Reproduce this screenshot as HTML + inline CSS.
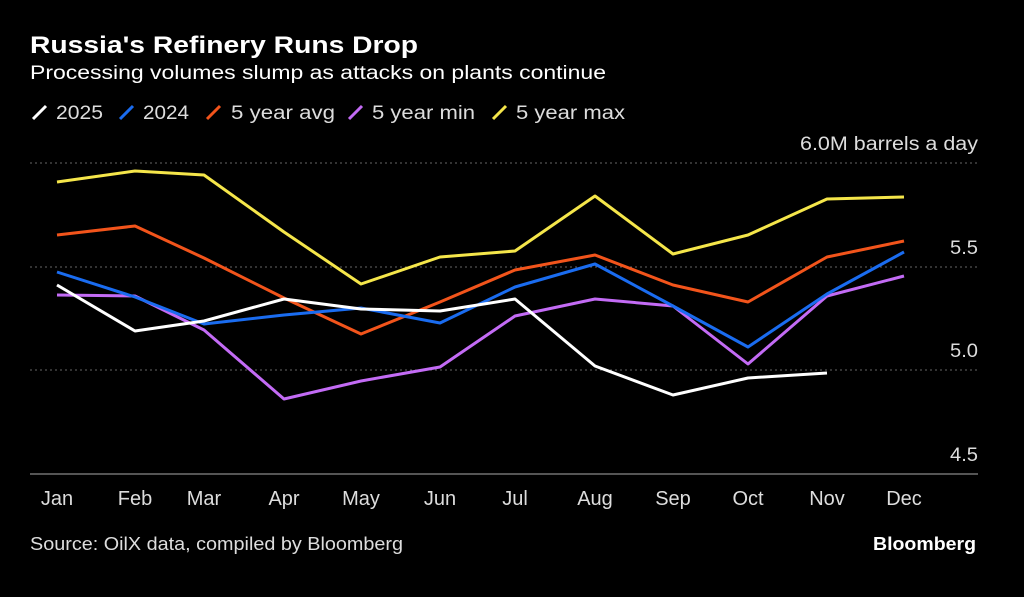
<!DOCTYPE html>
<html><head><meta charset="utf-8"><style>
html,body{margin:0;padding:0;background:#000;}
body{width:1024px;height:592px;overflow:hidden;font-family:"Liberation Sans",sans-serif;}
</style></head><body>
<svg width="1024" height="592" xmlns="http://www.w3.org/2000/svg" font-family="Liberation Sans, sans-serif">
<rect width="1024" height="592" fill="#000"/>
<text x="30" y="53" fill="#fff" font-size="24" font-weight="bold" textLength="388" lengthAdjust="spacingAndGlyphs">Russia's Refinery Runs Drop</text>
<text x="30" y="79" fill="#fff" font-size="19" textLength="576" lengthAdjust="spacingAndGlyphs">Processing volumes slump as attacks on plants continue</text>
<g font-size="19" fill="#ddd">
<line x1="33" y1="119" x2="46" y2="106" stroke="#fff" stroke-width="3"/><text x="56" y="119" textLength="47" lengthAdjust="spacingAndGlyphs">2025</text>
<line x1="120" y1="119" x2="133" y2="106" stroke="#1a6cf0" stroke-width="3"/><text x="143" y="119" textLength="46" lengthAdjust="spacingAndGlyphs">2024</text>
<line x1="207" y1="119" x2="220" y2="106" stroke="#f2541b" stroke-width="3"/><text x="231" y="119" textLength="104" lengthAdjust="spacingAndGlyphs">5 year avg</text>
<line x1="349" y1="119" x2="362" y2="106" stroke="#c36bf5" stroke-width="3"/><text x="372" y="119" textLength="103" lengthAdjust="spacingAndGlyphs">5 year min</text>
<line x1="493" y1="119" x2="506" y2="106" stroke="#f5e64a" stroke-width="3"/><text x="516" y="119" textLength="109" lengthAdjust="spacingAndGlyphs">5 year max</text>
</g>
<g stroke="#666" stroke-width="1" stroke-dasharray="2,3">
<line x1="30" y1="163" x2="978" y2="163"/>
<line x1="30" y1="267" x2="978" y2="267"/>
<line x1="30" y1="370" x2="978" y2="370"/>
</g>
<line x1="30" y1="474" x2="978" y2="474" stroke="#aaa" stroke-width="1"/>
<g font-size="19" fill="#ddd" text-anchor="end">
<text x="978" y="150" textLength="178" lengthAdjust="spacingAndGlyphs">6.0M barrels a day</text>
<text x="978" y="254" textLength="28" lengthAdjust="spacingAndGlyphs">5.5</text>
<text x="978" y="357" textLength="28" lengthAdjust="spacingAndGlyphs">5.0</text>
<text x="978" y="461" textLength="28" lengthAdjust="spacingAndGlyphs">4.5</text>
</g>
<g font-size="20" fill="#ddd" text-anchor="middle">
<text x="57" y="505">Jan</text><text x="135" y="505">Feb</text><text x="204" y="505">Mar</text><text x="284" y="505">Apr</text><text x="361" y="505">May</text><text x="440" y="505">Jun</text><text x="515" y="505">Jul</text><text x="595" y="505">Aug</text><text x="673" y="505">Sep</text><text x="748" y="505">Oct</text><text x="827" y="505">Nov</text><text x="904" y="505">Dec</text>
</g>
<g fill="none" stroke-width="3" stroke-linejoin="round">
<polyline stroke="#f5e64a" points="57,182 135,171 204,175 284,232 361,284 440,257 515,251 595,196 673,254 748,235 827,199 904,197"/>
<polyline stroke="#f2541b" points="57,235 135,226 204,258 284,298 361,334 440,302 515,270 595,255 673,285 748,302 827,257 904,241"/>
<polyline stroke="#c36bf5" points="57,295 135,296 204,330 284,399 361,381 440,367 515,316 595,299 673,306 748,364 827,296 904,276"/>
<polyline stroke="#1a6cf0" points="57,272 135,297 204,324 284,315 361,308 440,323 515,287 595,264 673,306 748,347 827,294 904,252"/>
<polyline stroke="#fff" points="57,285 135,331 204,321 284,299 361,309 440,311 515,299 595,366 673,395 748,378 827,373"/>
</g>
<text x="30" y="550" fill="#ddd" font-size="18" textLength="373" lengthAdjust="spacingAndGlyphs">Source: OilX data, compiled by Bloomberg</text>
<text x="976" y="550" fill="#fff" font-size="18" font-weight="bold" text-anchor="end" textLength="103" lengthAdjust="spacingAndGlyphs">Bloomberg</text>
</svg>
</body></html>
